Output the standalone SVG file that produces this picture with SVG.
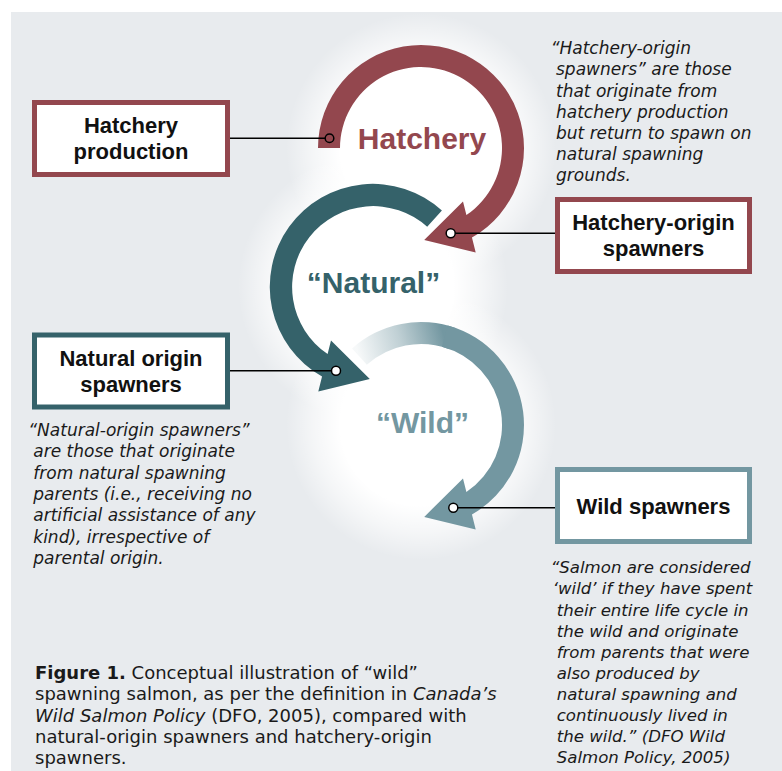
<svg xmlns="http://www.w3.org/2000/svg" width="782" height="771" viewBox="0 0 782 771">
<style>
.bx{fill:#fff;stroke-width:5}
.bl{font-family:"Liberation Sans",Arial,sans-serif;font-weight:bold;font-size:22px;fill:#111;text-anchor:middle}
.big{font-family:"Liberation Sans",Arial,sans-serif;font-weight:bold;font-size:30px;text-anchor:middle}
.it{font-family:"DejaVu Sans",sans-serif;font-style:italic;font-size:17px;fill:#1a1a1a}
.it2{font-family:"DejaVu Sans",sans-serif;font-style:italic;font-size:16.6px;fill:#1a1a1a}
.cap{font-family:"DejaVu Sans",sans-serif;font-size:18px;fill:#1a1a1a}
.ln{stroke:#000;stroke-width:1.4;fill:none}
.dot{fill:#fff;stroke:#000;stroke-width:1.5}
</style>
<defs>
<radialGradient id="glow" cx="0" cy="0" r="135" gradientUnits="userSpaceOnUse">
<stop offset="0" stop-color="#fff" stop-opacity="1"/>
<stop offset="0.6" stop-color="#fff" stop-opacity="1"/>
<stop offset="0.8" stop-color="#fff" stop-opacity="0.55"/>
<stop offset="1" stop-color="#fff" stop-opacity="0"/>
</radialGradient>
<linearGradient id="fade" x1="-62" y1="-68" x2="22" y2="-92" gradientUnits="userSpaceOnUse">
<stop offset="0" stop-color="#7397a1" stop-opacity="0.06"/>
<stop offset="0.5" stop-color="#7397a1" stop-opacity="0.45"/>
<stop offset="1" stop-color="#7397a1" stop-opacity="1"/>
</linearGradient>
</defs>
<rect x="0" y="0" width="782" height="771" fill="#fff"/>
<rect x="11" y="12" width="771" height="759" fill="#e8ebee"/>

<g id="glows">
<circle cx="0" cy="0" r="135" fill="url(#glow)" transform="translate(421,148)"/>
<circle cx="0" cy="0" r="135" fill="url(#glow)" transform="translate(373,287)"/>
<circle cx="0" cy="0" r="135" fill="url(#glow)" transform="translate(421,425)"/>
</g>

<g id="hatchery-arc" transform="translate(421,148)">
<path fill="#93474e" d="M -103 0 A 103 103 0 1 1 50.95 89.5 L 54.7 104.6 L 3.2 91.9 L 42 53.4 L 45.4 67.1 A 81 81 0 1 0 -81 0 Z"/>
</g>
<g id="natural-arc" transform="translate(373,287) scale(-1,1)">
<path fill="#35626a" d="M -68.9 -76.5 A 103 103 0 1 1 50.95 89.5 L 54.7 104.6 L 3.2 91.9 L 42 53.4 L 45.4 67.1 A 81 81 0 1 0 -54.2 -60.2 Z"/>
</g>
<g id="wild-arc" transform="translate(421,425)">
<path fill="url(#fade)" d="M -68.9 -76.5 A 103 103 0 0 1 35.23 -96.79 L 27.7 -76.12 A 81 81 0 0 0 -54.2 -60.2 Z"/>
<path fill="#7397a1" d="M 26.66 -99.49 A 103 103 0 0 1 50.95 89.5 L 54.7 104.6 L 3.2 91.9 L 42 53.4 L 45.4 67.1 A 81 81 0 0 0 20.96 -78.24 Z"/>
</g>

<g id="labels">
<text class="big" x="422" y="149" fill="#93474e">Hatchery</text>
<text class="big" x="373.5" y="293" fill="#35626a">“Natural”</text>
<text class="big" x="422.5" y="432.5" fill="#7397a1">“Wild”</text>
</g>

<g id="connectors">
<line class="ln" x1="230" y1="138.3" x2="325" y2="138.3"/>
<circle cx="329.5" cy="138.3" r="4.3" fill="none" stroke="#000" stroke-width="1.5"/>
<line class="ln" x1="555" y1="233.3" x2="455" y2="233.3"/>
<circle class="dot" cx="450.7" cy="233.3" r="4.5"/>
<line class="ln" x1="230" y1="370.7" x2="331.5" y2="370.7"/>
<circle class="dot" cx="336" cy="370.7" r="4.5"/>
<line class="ln" x1="555" y1="507.7" x2="458" y2="507.7"/>
<circle class="dot" cx="453.3" cy="507.7" r="4.5"/>
</g>

<g id="hatchery-production">
<rect class="bx" x="34.5" y="102.5" width="193" height="72" stroke="#93474e"/>
<text class="bl" x="131" y="133.4">Hatchery</text>
<text class="bl" x="131" y="159.4">production</text>
</g>
<g id="hatchery-origin-spawners">
<rect class="bx" x="557.5" y="199.5" width="192" height="72" stroke="#93474e"/>
<text class="bl" x="653.5" y="230.4">Hatchery-origin</text>
<text class="bl" x="653.5" y="256.4">spawners</text>
</g>
<g id="natural-origin-spawners">
<rect class="bx" x="34.5" y="335" width="193" height="72" stroke="#35626a"/>
<text class="bl" x="131" y="365.5">Natural origin</text>
<text class="bl" x="131" y="391.5">spawners</text>
</g>
<g id="wild-spawners">
<rect class="bx" x="557.5" y="469.5" width="192" height="72" stroke="#7397a1"/>
<text class="bl" x="653.5" y="513.5">Wild spawners</text>
</g>

<g id="hatchery-note">
<text class="it" x="550.7" y="54.3">“Hatchery-origin</text>
<text class="it" x="556" y="75.4">spawners” are those</text>
<text class="it" x="556" y="96.5">that originate from</text>
<text class="it" x="556" y="117.6">hatchery production</text>
<text class="it" x="556" y="138.7">but return to spawn on</text>
<text class="it" x="556" y="159.8">natural spawning</text>
<text class="it" x="556" y="180.9">grounds.</text>
</g>
<g id="natural-note">
<text class="it" x="28.3" y="436">“Natural-origin spawners”</text>
<text class="it" x="33.3" y="457.3">are those that originate</text>
<text class="it" x="33.3" y="478.6">from natural spawning</text>
<text class="it" x="33.3" y="499.9">parents (i.e., receiving no</text>
<text class="it" x="33.3" y="521.2">artificial assistance of any</text>
<text class="it" x="33.3" y="542.5">kind), irrespective of</text>
<text class="it" x="33.3" y="563.8">parental origin.</text>
</g>
<g id="wild-note">
<text class="it2" x="550.7" y="573.3">“Salmon are considered</text>
<text class="it2" x="552.7" y="594.4">‘wild’ if they have spent</text>
<text class="it2" x="556.7" y="615.5">their entire life cycle in</text>
<text class="it2" x="556.7" y="636.6">the wild and originate</text>
<text class="it2" x="556.7" y="657.7">from parents that were</text>
<text class="it2" x="556.7" y="678.8">also produced by</text>
<text class="it2" x="556.7" y="699.9">natural spawning and</text>
<text class="it2" x="556.7" y="721">continuously lived in</text>
<text class="it2" x="556.7" y="742.1">the wild.” (DFO Wild</text>
<text class="it2" x="556.7" y="763.2">Salmon Policy, 2005)</text>
</g>
<g id="caption">
<text class="cap" x="35" y="679.3"><tspan font-weight="bold">Figure 1.</tspan> Conceptual illustration of “wild”</text>
<text class="cap" x="35" y="700.4">spawning salmon, as per the definition in <tspan font-style="italic">Canada’s</tspan></text>
<text class="cap" x="35" y="721.5"><tspan font-style="italic">Wild Salmon Policy</tspan> (DFO, 2005), compared with</text>
<text class="cap" x="35" y="742.6">natural-origin spawners and hatchery-origin</text>
<text class="cap" x="35" y="763.7">spawners.</text>
</g>
</svg>
